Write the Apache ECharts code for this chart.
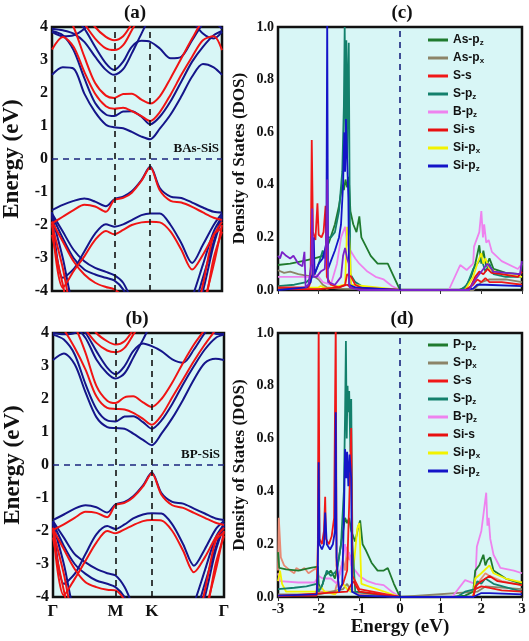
<!DOCTYPE html>
<html>
<head>
<meta charset="utf-8">
<script src="https://cdn.jsdelivr.net/npm/echarts@6/dist/echarts.min.js"></script>
<style>html,body{margin:0;padding:0;background:#fff;}#c{width:529px;height:641px;}</style>
</head>
<body>
<div id="c"></div>
<script>
// ---- k-path (Γ-M-K-Γ) ----
const kPts = [0, 0.1, 0.2, 0.3, 0.4, 0.5, 0.577, 0.66, 0.74, 0.83, 0.911, 1.0, 1.1, 1.2, 1.3, 1.4, 1.5, 1.577];
const kTickVals = [0, 0.577, 0.911, 1.577];
const kTickLabels = ['Γ', 'M', 'K', 'Γ'];
const energyTicks = [-4, -3, -2, -1, 0, 1, 2, 3, 4];

// ---- (a) BAs-SiS bands ----
const aBlue1 = [2.55, 2.78, 2.74, 1.98, 1.42, 1.04, 0.96, 0.93, 0.82, 0.68, 0.6, 0.92, 1.35, 1.9, 2.5, 2.88, 2.78, 2.55];
const aBlue2 = [3.88, 3.75, 3.3, 2.45, 1.7, 1.35, 1.3, 1.44, 1.45, 1.28, 1.05, 1.28, 1.75, 2.35, 2.95, 3.4, 3.75, 3.88];
const aBlue3 = [3.95, 3.9, 3.8, 3.55, 3.1, 2.7, 2.55, 2.72, 3.2, 3.8, 4.3, 4.6, 4.8, 4.8, 4.8, 4.6, 4.2, 3.95];
const aBlue4 = [4.6, 4.5, 4.3, 3.95, 3.4, 2.9, 2.7, 2.95, 3.4, 3.58, 3.55, 3.35, 3.05, 3.1, 3.6, 4.1, 4.4, 4.6];
const aBlue5 = [3.85, 3.72, 3.75, 3.95, 4.3, 4.6, 4.8, 4.8, 4.8, 4.8, 4.8, 4.8, 4.8, 4.6, 4.2, 3.8, 3.65, 3.85];
const aRed1 = [3.32, 3.7, 3.4, 2.64, 1.98, 1.6, 1.52, 1.55, 1.45, 1.3, 1.15, 1.42, 1.95, 2.55, 3.1, 3.6, 3.72, 3.3];
const aRed2 = [4.7, 4.6, 4.0, 3.1, 2.3, 1.92, 1.85, 1.97, 1.98, 1.8, 1.68, 1.9, 2.45, 3.05, 3.65, 4.2, 4.5, 4.7];
const aRed3 = [5, 5, 4.6, 4.1, 3.65, 3.35, 3.3, 3.45, 3.9, 4.4, 4.8, 5, 5, 5, 5, 5, 5, 5];
const aRed4 = [5, 5, 5, 4.5, 4.0, 3.7, 3.6, 3.72, 4.1, 4.6, 5, 5, 5, 5, 5, 5, 5, 5];
const aBlueV1 = [-1.55, -1.39, -1.27, -1.2, -1.29, -1.43, -1.22, -1.14, -0.98, -0.64, -0.23, -0.88, -1.14, -1.18, -1.32, -1.47, -1.6, -1.62];
const aRedV1 = [-1.95, -1.75, -1.55, -1.39, -1.44, -1.6, -1.24, -1.18, -1.02, -0.66, -0.25, -0.95, -1.27, -1.32, -1.45, -1.62, -1.78, -1.85];
const aBlueV2 = [-1.6, -3.6, -3.34, -2.8, -2.26, -1.98, -2.05, -1.98, -1.85, -1.7, -1.65, -1.65, -2.0, -2.55, -3.15, -2.6, -2.0, -1.65];
const aRedV2 = [-1.9, -3.9, -3.4, -2.95, -2.45, -2.18, -2.28, -2.15, -2.0, -1.92, -1.9, -1.92, -2.2, -2.75, -3.35, -2.9, -2.3, -1.9];
const aBlueV3 = [-1.65, -2.2, -2.75, -3.1, -3.3, -3.42, -3.52, -3.75, -4.3, -5, -5, -5, -5, -5, -4.6, -3.6, -2.5, -1.7];
const aBlueV4 = [-1.7, -2.4, -3.0, -3.35, -3.5, -3.6, -3.68, -3.95, -4.5, -5, -5, -5, -5, -5, -4.2, -3.2, -2.2, -1.75];
const aBlueV5 = [-1.75, -3.0, -4.5, -5, -5, -5, -5, -5, -5, -5, -5, -5, -5, -5, -5, -4.0, -2.6, -1.8];
const aRedV3 = [-1.9, -2.5, -3.1, -3.5, -3.75, -3.88, -3.95, -4.2, -4.8, -5, -5, -5, -5, -5, -5, -4.4, -3.2, -2.0];
const aRedV4 = [-2.0, -3.3, -4.8, -5, -5, -5, -5, -5, -5, -5, -5, -5, -5, -5, -5, -3.8, -2.3, -2.1];
const aRedV5 = [-2.3, -3.8, -5, -5, -5, -5, -5, -5, -5, -5, -5, -5, -5, -5, -5, -4.6, -3.0, -2.2];

// ---- (b) BP-SiS bands ----
const bBlue1 = [3.18, 3.38, 3.05, 2.2, 1.45, 1.15, 1.12, 1.1, 0.95, 0.76, 0.6, 0.95, 1.42, 1.98, 2.59, 3.09, 3.22, 3.18];
const bBlue2 = [3.95, 3.8, 3.35, 2.45, 1.7, 1.35, 1.32, 1.47, 1.48, 1.3, 1.1, 1.35, 1.85, 2.45, 3.0, 3.5, 3.85, 3.95];
const bBlue3 = [4.5, 4.4, 4.2, 3.85, 3.2, 2.78, 2.62, 2.78, 3.25, 3.8, 4.3, 4.6, 4.8, 4.8, 4.8, 4.8, 4.7, 4.5];
const bBlue4 = [4.6, 4.5, 4.3, 4.0, 3.45, 2.95, 2.75, 3.0, 3.45, 3.68, 3.6, 3.45, 3.2, 3.1, 3.5, 4.0, 4.4, 4.6];
const bBlue5 = [4.0, 3.96, 4.0, 4.3, 4.6, 4.8, 4.8, 4.8, 4.8, 4.8, 4.8, 4.8, 4.8, 4.8, 4.6, 4.25, 3.98, 3.97];
const bRed1 = [4.5, 4.1, 3.55, 2.89, 2.08, 1.73, 1.7, 1.68, 1.58, 1.4, 1.22, 1.5, 2.05, 2.6, 3.15, 3.65, 4.1, 4.5];
const bRed2 = [4.8, 4.6, 4.2, 3.4, 2.4, 1.95, 1.88, 2.05, 2.08, 1.9, 1.76, 2.0, 2.5, 3.1, 3.65, 4.1, 4.5, 4.8];
const bRed3 = [5, 5, 4.6, 4.1, 3.7, 3.47, 3.42, 3.55, 3.95, 4.4, 4.8, 5, 5, 5, 5, 5, 5, 5];
const bRed4 = [5, 5, 5, 4.5, 4.0, 3.75, 3.65, 3.75, 4.1, 4.6, 5, 5, 5, 5, 5, 5, 5, 5];
const bBlueV1 = [-1.67, -1.5, -1.32, -1.22, -1.28, -1.44, -1.19, -1.12, -0.95, -0.62, -0.23, -0.85, -1.12, -1.17, -1.32, -1.47, -1.62, -1.67];
const bRedV1 = [-1.97, -1.8, -1.6, -1.42, -1.45, -1.58, -1.21, -1.15, -0.98, -0.65, -0.25, -0.9, -1.22, -1.3, -1.45, -1.6, -1.75, -1.82];
const bBlueV2 = [-1.7, -3.6, -3.3, -2.7, -2.1, -1.85, -1.94, -1.8, -1.62, -1.5, -1.46, -1.47, -1.8, -2.4, -3.05, -2.55, -1.95, -1.7];
const bRedV2 = [-1.9, -3.95, -3.45, -2.9, -2.35, -2.0, -2.07, -1.95, -1.82, -1.7, -1.67, -1.68, -2.0, -2.6, -3.25, -2.8, -2.2, -1.9];
const bBlueV3 = [-1.7, -2.2, -2.7, -2.95, -3.15, -3.28, -3.35, -3.7, -4.3, -5, -5, -5, -5, -5, -4.6, -3.6, -2.5, -1.75];
const bBlueV4 = [-1.75, -2.45, -3.0, -3.3, -3.5, -3.6, -3.7, -4.0, -4.5, -5, -5, -5, -5, -5, -4.2, -3.2, -2.2, -1.8];
const bBlueV5 = [-1.8, -3.0, -4.5, -5, -5, -5, -5, -5, -5, -5, -5, -5, -5, -5, -5, -4.0, -2.6, -1.85];
const bRedV3 = [-1.95, -2.55, -3.15, -3.55, -3.7, -3.78, -3.8, -4.1, -4.7, -5, -5, -5, -5, -5, -5, -4.4, -3.2, -2.0];
const bRedV4 = [-2.0, -3.3, -4.8, -5, -5, -5, -5, -5, -5, -5, -5, -5, -5, -5, -5, -3.8, -2.3, -2.05];
const bRedV5 = [-2.2, -3.8, -5, -5, -5, -5, -5, -5, -5, -5, -5, -5, -5, -5, -5, -4.6, -3.0, -2.15];

// ---- (c) PDOS BAs-SiS : [energy, DOS] ----
const cAsPz = [[-3,0.095],[-2.7,0.1],[-2.4,0.11],[-2.1,0.12],[-1.9,0.13],[-1.75,0.18],[-1.6,0.25],[-1.5,0.32],[-1.42,0.4],[-1.38,0.38],[-1.34,0.42],[-1.3,0.39],[-1.26,0.43],[-1.22,0.3],[-1.15,0.25],[-1.07,0.22],[-1.0,0.28],[-0.95,0.2],[-0.85,0.17],[-0.72,0.13],[-0.55,0.1],[-0.3,0.1],[-0.15,0.05],[0,0],[1.45,0],[1.6,0.01],[1.75,0.05],[1.85,0.1],[1.95,0.17],[2.0,0.1],[2.05,0.15],[2.12,0.09],[2.2,0.12],[2.3,0.08],[2.6,0.065],[2.97,0.06],[3,0.1]];
const cAsPx = [[-3,0.075],[-2.85,0.065],[-2.7,0.07],[-2.5,0.06],[-2.3,0.055],[-2.1,0.05],[-2.0,0.04],[-1.9,0.02],[-1.8,0.01],[-1.5,0.005],[0,0],[1.8,0],[2.0,0.03],[2.2,0.04],[2.6,0.04],[3,0.03]];
const cSs = [[-3,0.01],[-2.25,0.01],[-2.2,0.03],[-2.17,0.57],[-2.14,0.22],[-2.08,0.19],[-2.03,0.33],[-2.0,0.21],[-1.93,0.2],[-1.88,0.22],[-1.83,0.32],[-1.8,0.05],[-1.7,0.02],[-1.5,0.01],[-1.35,0.02],[-1.3,0.06],[-1.2,0.05],[-1.1,0.02],[-0.9,0.005],[0,0],[1.6,0],[1.8,0.02],[1.9,0.04],[2.0,0.03],[2.1,0.045],[2.2,0.03],[2.5,0.03],[3,0.02]];
const cSPz = [[-3,0.015],[-2.6,0.02],[-2.3,0.03],[-2.1,0.06],[-2.0,0.1],[-1.9,0.15],[-1.85,0.12],[-1.8,0.2],[-1.7,0.2],[-1.6,0.22],[-1.5,0.3],[-1.42,0.45],[-1.38,0.7],[-1.36,1.0],[-1.34,0.6],[-1.32,0.95],[-1.3,0.5],[-1.28,0.8],[-1.26,0.94],[-1.24,0.4],[-1.22,0.06],[-1.1,0.03],[-0.9,0.01],[0,0],[1.5,0],[1.65,0.02],[1.8,0.08],[1.9,0.1],[2.0,0.12],[2.1,0.07],[2.2,0.1],[2.3,0.06],[2.6,0.05],[3,0.05]];
const cBPz = [[-3,0.05],[-2.5,0.05],[-2.2,0.05],[-2.1,0.06],[-2.0,0.05],[-1.9,0.03],[-1.7,0.02],[-1.55,0.1],[-1.45,0.2],[-1.4,0.22],[-1.35,0.24],[-1.3,0.18],[-1.22,0.15],[-1.1,0.12],[-1.0,0.1],[-0.8,0.07],[-0.6,0.05],[-0.4,0.04],[-0.2,0.015],[0,0],[1.2,0],[1.48,0.095],[1.64,0.076],[1.8,0.1],[1.82,0.165],[1.95,0.22],[2.0,0.3],[2.04,0.2],[2.07,0.25],[2.12,0.18],[2.18,0.19],[2.26,0.145],[2.5,0.11],[2.9,0.08],[3,0.1]];
const cSis = [[-3,0.003],[-2,0.003],[-1.5,0.01],[-1.3,0.02],[-1.2,0.01],[0,0],[1.7,0],[1.85,0.05],[1.95,0.07],[2.05,0.06],[2.15,0.08],[2.25,0.065],[2.5,0.06],[2.9,0.05],[3,0.07]];
const cSiPx = [[-3,0.005],[-2,0.01],[-1.95,0.015],[-1.8,0.005],[-1.35,0.02],[-1.3,0.24],[-1.25,0.2],[-1.2,0.02],[0,0],[1.6,0],[1.8,0.05],[1.9,0.1],[2.0,0.14],[2.05,0.1],[2.1,0.12],[2.2,0.08],[2.5,0.06],[3,0.05]];
const cSiPz = [[-3,0.0],[-2.3,0.01],[-2.2,0.03],[-2.15,0.06],[-2.12,0.2],[-2.1,0.06],[-2.0,0.1],[-1.9,0.12],[-1.85,0.15],[-1.81,0.18],[-1.79,1.05],[-1.77,0.08],[-1.7,0.11],[-1.6,0.15],[-1.5,0.2],[-1.45,0.25],[-1.4,0.4],[-1.37,0.6],[-1.35,0.45],[-1.33,0.65],[-1.3,0.5],[-1.27,0.35],[-1.25,0.02],[-1.1,0.01],[0,0],[1.6,0],[1.8,0.005],[1.9,0.02],[2.1,0.02],[3,0.015]];
const cPurple = [[-3,0.13],[-2.95,0.12],[-2.9,0.145],[-2.8,0.13],[-2.7,0.12],[-2.62,0.13],[-2.5,0.1],[-2.4,0.09],[-2.35,0.145],[-2.32,0.01],[-2.25,0.02],[-2.18,0.1],[-2.16,0.31],[-2.13,0.05],[-2.05,0.05],[-1.95,0.07],[-1.85,0.08],[-1.8,0.25],[-1.79,0.42],[-1.77,0.03],[-1.6,0.02],[-1.45,0.05],[-1.4,0.13],[-1.35,0.16],[-1.3,0.12],[-1.26,0.1],[-1.24,0.01],[-1.0,0.0],[0,0],[1.7,0],[1.85,0.04],[1.95,0.06],[2.05,0.08],[2.15,0.1],[2.3,0.07],[2.6,0.065],[2.95,0.06],[3,0.11]];

// ---- (d) PDOS BP-SiS ----
const dPPz = [[-3,0.17],[-2.97,0.11],[-2.8,0.105],[-2.5,0.1],[-2.2,0.11],[-2.02,0.115],[-2.0,0.05],[-1.95,0.03],[-1.9,0.05],[-1.85,0.08],[-1.7,0.1],[-1.6,0.07],[-1.5,0.15],[-1.4,0.25],[-1.35,0.3],[-1.3,0.28],[-1.25,0.3],[-1.2,0.25],[-1.1,0.21],[-1.02,0.27],[-0.98,0.29],[-0.92,0.2],[-0.85,0.18],[-0.7,0.13],[-0.55,0.1],[-0.4,0.1],[-0.3,0.11],[-0.15,0.05],[0,0],[1.3,0],[1.6,0.005],[1.8,0.02],[1.85,0.1],[1.95,0.12],[2.05,0.16],[2.1,0.12],[2.15,0.14],[2.22,0.15],[2.3,0.1],[2.6,0.07],[3,0.05]];
const dSPx = [[-3,0.01],[-2,0.01],[-1.4,0.03],[-1.3,0.05],[-1.2,0.02],[0,0],[1.9,0.02],[2.1,0.04],[3,0.03]];
const dSs = [[-3,0.005],[-2.05,0.005],[-2.02,0.2],[-2.0,1.05],[-1.98,0.22],[-1.92,0.2],[-1.87,0.25],[-1.84,0.38],[-1.82,0.22],[-1.75,0.2],[-1.68,0.23],[-1.62,0.3],[-1.58,1.05],[-1.56,0.12],[-1.5,0.03],[-1.4,0.05],[-1.3,0.1],[-1.25,0.35],[-1.2,0.64],[-1.17,0.08],[-1.1,0.06],[-1.0,0.03],[0,0],[1.8,0],[1.85,0.03],[2.0,0.04],[2.2,0.035],[2.5,0.025],[3,0.02]];
const dSPz = [[-3,0.03],[-2.6,0.035],[-2.3,0.04],[-2.05,0.05],[-2.0,0.02],[-1.9,0.05],[-1.8,0.1],[-1.7,0.08],[-1.55,0.1],[-1.45,0.2],[-1.38,0.4],[-1.35,0.7],[-1.33,0.97],[-1.31,0.6],[-1.29,0.8],[-1.27,0.7],[-1.25,0.78],[-1.22,0.55],[-1.2,0.75],[-1.17,0.2],[-1.1,0.02],[0,0],[1.4,0],[1.6,0.02],[1.85,0.03],[1.9,0.06],[2.0,0.05],[2.1,0.07],[2.3,0.05],[3,0.02]];
const dBPz = [[-3,0.09],[-2.95,0.06],[-2.5,0.055],[-2.1,0.055],[-2.0,0.08],[-1.9,0.07],[-1.7,0.07],[-1.55,0.05],[-1.45,0.1],[-1.35,0.2],[-1.3,0.15],[-1.25,0.17],[-1.2,0.12],[-1.1,0.1],[-1.0,0.08],[-0.8,0.06],[-0.6,0.05],[-0.4,0.045],[-0.2,0.02],[0,0],[1.28,0],[1.6,0.064],[1.85,0.05],[1.89,0.19],[2.0,0.25],[2.12,0.395],[2.15,0.27],[2.18,0.3],[2.22,0.22],[2.3,0.16],[2.47,0.11],[2.8,0.1],[3,0.09]];
const dSis = [[-3,0.003],[-1.3,0.02],[-1.15,0.06],[-1.0,0.02],[0,0],[1.8,0],[1.85,0.04],[2.0,0.06],[2.2,0.08],[2.4,0.06],[3,0.045]];
const dSiPx = [[-3,0.06],[-2.95,0.1],[-2.9,0.05],[-2.8,0.02],[-2.0,0.02],[-1.95,0.04],[-1.85,0.02],[-1.6,0.01],[-1.4,0.05],[-1.3,0.03],[-1.2,0.02],[-1.05,0.26],[-1.0,0.28],[-0.95,0.05],[0,0],[1.8,0],[1.85,0.07],[2.0,0.09],[2.2,0.12],[2.3,0.09],[2.6,0.07],[3,0.055]];
const dSiPz = [[-3,0.005],[-2.05,0.01],[-2.02,0.1],[-2.0,0.51],[-1.98,0.2],[-1.92,0.18],[-1.87,0.2],[-1.84,0.32],[-1.8,0.2],[-1.72,0.18],[-1.65,0.2],[-1.6,0.25],[-1.58,0.7],[-1.56,0.15],[-1.5,0.02],[-1.42,0.05],[-1.38,0.3],[-1.35,0.56],[-1.32,0.45],[-1.3,0.55],[-1.27,0.42],[-1.24,0.54],[-1.2,0.45],[-1.18,0.02],[-1.0,0.005],[0,0],[1.8,0],[2.0,0.015],[2.2,0.015],[3,0.01]];
const dSalmon = [[-3,0.1],[-2.98,0.3],[-2.93,0.15],[-2.85,0.12],[-2.7,0.1],[-2.6,0.09],[-2.55,0.11],[-2.45,0.1],[-2.35,0.11],[-2.25,0.09],[-2.15,0.1],[-2.05,0.11],[-2.0,0.02],[-1.6,0.02],[-1.5,0.08],[-1.4,0.14],[-1.35,0.1],[-1.3,0.19],[-1.25,0.14],[-1.2,0.16],[-1.17,0.02],[-1,0.01],[0,0],[1.8,0],[1.9,0.05],[2.0,0.07],[2.1,0.09],[2.2,0.08],[2.5,0.06],[3,0.045]];

const dosTicks = [0, 0.2, 0.4, 0.6, 0.8, 1.0];
const dosEnergyTicks = [-3, -2, -1, 0, 1, 2, 3];

// ---- styling ----
const BLUE = '#15158a', RED = '#f01414';
const C = {green:'#1f7a2e', olive:'#8c8468', red:'#f01818', teal:'#13806c', pink:'#ee82ee', red2:'#e81010', yellow:'#f2f200', blue:'#1414c8', purple:'#7a22c8', salmon:'#e88a74'};
const SERIF = 'Liberation Serif, Times New Roman, serif';
const BG = '#d8f6f6';

const chart = echarts.init(document.getElementById('c'), null, {renderer:'canvas'});

function bandSeries(arrs, color, gi) {
  return arrs.map((arr, j) => ({
    type:'line', xAxisIndex:gi, yAxisIndex:gi, name:'band'+gi+'_'+color+j,
    data: kPts.map((k,i)=>[k, arr[i]]), symbol:'none', smooth:0.3, clip:true,
    lineStyle:{color:color, width:2}, itemStyle:{color:color}, silent:true, z:3
  }));
}
function refLines(gi) {
  return {type:'line', xAxisIndex:gi, yAxisIndex:gi, data:[], symbol:'none', silent:true, z:2,
    markLine:{silent:true, symbol:'none', label:{show:false}, animation:false,
      data:[
        {xAxis:kTickVals[1], lineStyle:{color:'#111', type:[6,5], width:1.6}},
        {xAxis:kTickVals[2], lineStyle:{color:'#111', type:[6,5], width:1.6}},
        {yAxis:0, lineStyle:{color:'#1a237e', type:[6,5], width:1.6}}
      ]}};
}
function dosSeries(name, data, color, gi, w) {
  return {type:'line', name:name, xAxisIndex:gi, yAxisIndex:gi, data:data, symbol:'none',
    lineStyle:{color:color, width:w||1.8}, itemStyle:{color:color}, clip:true, z:3};
}
function zeroLine(gi) {
  return {type:'line', xAxisIndex:gi, yAxisIndex:gi, data:[], symbol:'none', silent:true, z:2,
    markLine:{silent:true, symbol:'none', label:{show:false}, animation:false,
      data:[{xAxis:0, lineStyle:{color:'#1a237e', type:[6,5], width:1.6}}]}};
}

const grids = [
  {left:52, top:27, width:170, height:264},
  {left:278, top:27, width:244, height:263},
  {left:53, top:333, width:171, height:264},
  {left:278, top:333, width:244, height:264}
].map(g => Object.assign(g, {show:true, backgroundColor:BG, borderColor:'#111', borderWidth:2.5, containLabel:false, outerBoundsMode:'none'}));

function bandX(gi, showLabels) {
  return {gridIndex:gi, type:'value', min:0, max:1.577, axisLine:{show:false}, splitLine:{show:false},
    axisTick:{show:false},
    axisLabel:{show:showLabels, customValues:kTickVals, margin:6,
      formatter:(v)=>{const i=kTickVals.findIndex(t=>Math.abs(t-v)<1e-6); return i>=0?kTickLabels[i]:'';},
      color:'#111', fontFamily:SERIF, fontWeight:'bold', fontSize:17}};
}
function bandY(gi) {
  return {gridIndex:gi, type:'value', min:-4, max:4, interval:1, name:'Energy (eV)', nameLocation:'middle', nameGap:28,
    nameTextStyle:{fontFamily:SERIF, fontWeight:'bold', fontSize:23, color:'#111'},
    axisLine:{show:false}, splitLine:{show:false}, axisTick:{show:false},
    axisLabel:{margin:4, color:'#111', fontFamily:SERIF, fontWeight:'bold', fontSize:16}};
}
function dosX(gi, showLabels) {
  const o = {gridIndex:gi, type:'value', min:-3, max:3, interval:1, axisLine:{show:false}, splitLine:{show:false},
    axisTick:{show:true, length:4, lineStyle:{color:'#333', width:1}},
    axisLabel:{show:showLabels, margin:5, color:'#111', fontFamily:SERIF, fontWeight:'bold', fontSize:15}};
  if (showLabels) { o.name='Energy (eV)'; o.nameLocation='middle'; o.nameGap=20;
    o.nameTextStyle={fontFamily:SERIF, fontWeight:'bold', fontSize:19, color:'#111'}; }
  return o;
}
function dosY(gi) {
  return {gridIndex:gi, type:'value', min:0, max:1, interval:0.2, name:'Density of States (DOS)', nameLocation:'middle', nameGap:30,
    nameTextStyle:{fontFamily:SERIF, fontWeight:'bold', fontSize:17, color:'#111'},
    axisLine:{show:false}, splitLine:{show:false}, axisTick:{show:false},
    axisLabel:{margin:4, color:'#111', fontFamily:SERIF, fontWeight:'bold', fontSize:14, formatter:v=>v.toFixed(1)}};
}

const series = [].concat(
  [refLines(0)],
  bandSeries([aBlue1,aBlue2,aBlue3,aBlue4,aBlue5,aBlueV1,aBlueV2,aBlueV3,aBlueV4,aBlueV5], BLUE, 0),
  bandSeries([aRed1,aRed2,aRed3,aRed4,aRedV1,aRedV2,aRedV3,aRedV4,aRedV5], RED, 0),
  [refLines(2)],
  bandSeries([bBlue1,bBlue2,bBlue3,bBlue4,bBlue5,bBlueV1,bBlueV2,bBlueV3,bBlueV4,bBlueV5], BLUE, 2),
  bandSeries([bRed1,bRed2,bRed3,bRed4,bRedV1,bRedV2,bRedV3,bRedV4,bRedV5], RED, 2),
  [zeroLine(1),
   dosSeries('As-px', cAsPx, C.olive, 1),
   dosSeries('B-pz', cBPz, C.pink, 1),
   dosSeries('As-pz', cAsPz, C.green, 1),
   dosSeries('S-pz', cSPz, C.teal, 1),
   dosSeries('Si-px', cSiPx, C.yellow, 1),
   dosSeries('S-s', cSs, C.red, 1),
   dosSeries('Si-s', cSis, C.red2, 1),
   dosSeries('Si-pz', cSiPz, C.blue, 1),
   dosSeries('c-extra', cPurple, C.purple, 1)],
  [zeroLine(3),
   dosSeries('d-extra', dSalmon, C.salmon, 3),
   dosSeries('S-px', dSPx, C.olive, 3),
   dosSeries('B-pz', dBPz, C.pink, 3),
   dosSeries('P-pz', dPPz, C.green, 3),
   dosSeries('Si-px', dSiPx, C.yellow, 3),
   dosSeries('S-pz', dSPz, C.teal, 3),
   dosSeries('Si-s', dSis, C.red2, 3),
   dosSeries('S-s', dSs, C.red, 3),
   dosSeries('Si-pz', dSiPz, C.blue, 3)]
);

const legendText = {
  color:'#111', fontFamily:'Liberation Sans, Arial, sans-serif', fontWeight:'bold', fontSize:12, lineHeight:14,
  rich:{s:{fontSize:8, fontWeight:'bold', fontFamily:'Liberation Sans, Arial, sans-serif', color:'#111', verticalAlign:'bottom', padding:[6,0,0,0]}}
};
const legendFmt = n => n.replace(/-p([xz])$/, '-p{s|$1}');
function mkLegend(names, top) {
  return {data:names, orient:'vertical', left:428, top:top, itemWidth:20, itemHeight:3, itemGap:4,
    icon:'rect', selectedMode:false, textStyle:legendText, formatter:legendFmt, padding:0};
}

chart.setOption({
  animation:false,
  backgroundColor:'#fff',
  grid:grids,
  xAxis:[bandX(0,false), dosX(1,false), bandX(2,true), dosX(3,true)],
  yAxis:[bandY(0), dosY(1), bandY(2), dosY(3)],
  legend:[
    mkLegend(['As-pz','As-px','S-s','S-pz','B-pz','Si-s','Si-px','Si-pz'], 33),
    mkLegend(['P-pz','S-px','S-s','S-pz','B-pz','Si-s','Si-px','Si-pz'], 338)
  ],
  graphic:[
    {type:'text', x:135, y:13, style:{text:'(a)', fontFamily:SERIF, fontWeight:'bold', fontSize:19, fill:'#111', textAlign:'center', textVerticalAlign:'middle'}},
    {type:'text', x:402, y:13, style:{text:'(c)', fontFamily:SERIF, fontWeight:'bold', fontSize:19, fill:'#111', textAlign:'center', textVerticalAlign:'middle'}},
    {type:'text', x:137, y:319, style:{text:'(b)', fontFamily:SERIF, fontWeight:'bold', fontSize:19, fill:'#111', textAlign:'center', textVerticalAlign:'middle'}},
    {type:'text', x:402, y:319, style:{text:'(d)', fontFamily:SERIF, fontWeight:'bold', fontSize:19, fill:'#111', textAlign:'center', textVerticalAlign:'middle'}},
    {type:'text', x:219, y:149, z:100, style:{text:'BAs-SiS', fontFamily:SERIF, fontWeight:'bold', fontSize:13, fill:'#111', textAlign:'right', textVerticalAlign:'middle'}},
    {type:'text', x:220, y:455, z:100, style:{text:'BP-SiS', fontFamily:SERIF, fontWeight:'bold', fontSize:13, fill:'#111', textAlign:'right', textVerticalAlign:'middle'}}
  ],
  series:series
});
</script>
</body>
</html>
